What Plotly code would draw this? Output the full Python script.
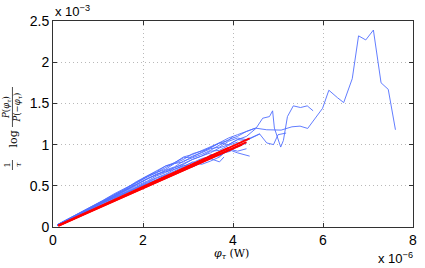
import plotly.graph_objects as go

# x in units of 1e-6 W, y in units of 1e-3
X = [0.1, 0.35, 0.6, 0.85, 1.1, 1.35, 1.6, 1.85, 2.1, 2.3, 2.5, 2.7, 2.9,
     3.1, 3.3, 3.5, 3.7, 3.9, 4.1, 4.3, 4.5]

b1_x = X[:21] + [4.75, 5.07, 5.31, 5.49, 5.66, 5.99, 6.13, 6.32, 6.46, 6.65,
                 6.79, 6.95, 7.12, 7.29, 7.45, 7.61]
b1_y = [0.025, 0.092, 0.16, 0.23, 0.30, 0.37, 0.44, 0.51, 0.59, 0.63, 0.69,
        0.73, 0.80, 0.84, 0.88, 0.93, 0.99, 1.06, 1.10, 1.16, 1.20,
        1.18, 1.176, 1.216, 1.224, 1.196, 1.44, 1.66, 1.57, 1.51, 1.80, 2.32,
        2.27, 2.39, 1.75, 1.67, 1.18]

b2_x = X[:20] + [4.51, 4.66, 4.81, 4.88, 4.92, 5.06, 5.12, 5.21, 5.34, 5.5,
                 5.65, 5.78]
b2_y = [0.02, 0.09, 0.16, 0.23, 0.30, 0.36, 0.43, 0.50, 0.56, 0.62, 0.66,
        0.72, 0.76, 0.82, 0.86, 0.90, 0.96, 1.00, 1.06, 1.10,
        1.196, 1.32, 1.34, 1.41, 1.20, 0.97, 1.05, 1.34, 1.47, 1.45, 1.47, 1.41]

b3_x = X[:20] + [4.59, 4.75, 4.9, 5.0, 5.18]
b3_y = [0.025, 0.095, 0.165, 0.235, 0.31, 0.38, 0.45, 0.53, 0.61, 0.66, 0.70,
        0.77, 0.79, 0.86, 0.90, 0.95, 0.97, 1.04, 1.08, 1.06,
        1.13, 1.02, 1.0, 1.12, 1.14]

b4_x = X[:19] + [4.37]
b4_y = [0.02, 0.09, 0.155, 0.225, 0.29, 0.36, 0.42, 0.49, 0.55, 0.60, 0.64,
        0.70, 0.75, 0.73, 0.78, 0.84, 0.88, 0.94, 0.90, 0.86]

b5_x = X[:21] + [4.6]
b5_y = [0.03, 0.10, 0.17, 0.24, 0.31, 0.39, 0.46, 0.54, 0.62, 0.67, 0.74,
        0.78, 0.85, 0.88, 0.93, 0.97, 1.02, 1.00, 1.06, 1.05, 1.10, 1.13]

b6_x = X[:19] + [4.3]
b6_y = [0.02, 0.085, 0.155, 0.22, 0.29, 0.355, 0.42, 0.48, 0.54, 0.59, 0.63,
        0.68, 0.73, 0.79, 0.76, 0.80, 0.85, 0.95, 0.92, 0.95]

b7_x = X[:18] + [4.0]
b7_y = [0.025, 0.095, 0.17, 0.24, 0.315, 0.39, 0.46, 0.55, 0.62, 0.68, 0.74,
        0.77, 0.82, 0.89, 0.92, 0.96, 1.02, 1.05, 1.10]

b8_x = X[:17] + [3.8]
b8_y = [0.02, 0.09, 0.16, 0.22, 0.29, 0.35, 0.41, 0.47, 0.53, 0.58, 0.62,
        0.66, 0.71, 0.76, 0.79, 0.83, 0.79, 0.85]

b9_x = X[:21]
b9_y = [0.03, 0.10, 0.17, 0.25, 0.32, 0.40, 0.47, 0.55, 0.61, 0.66, 0.72,
        0.78, 0.84, 0.85, 0.91, 0.97, 1.03, 1.08, 1.12, 1.16, 1.20]

b10_x = X[:19] + [4.2]
b10_y = [0.02, 0.09, 0.16, 0.23, 0.30, 0.37, 0.44, 0.52, 0.58, 0.64, 0.68,
         0.72, 0.77, 0.82, 0.86, 0.92, 0.93, 0.99, 1.03, 0.99]

b11_x = X[:17] + [3.95]
b11_y = [0.025, 0.09, 0.16, 0.235, 0.305, 0.38, 0.45, 0.52, 0.59, 0.64, 0.67,
         0.70, 0.74, 0.78, 0.83, 0.86, 0.89, 0.92]

b12_x = X[:20]
b12_y = [0.02, 0.085, 0.15, 0.22, 0.28, 0.34, 0.41, 0.47, 0.53, 0.57, 0.62,
         0.66, 0.72, 0.75, 0.79, 0.88, 0.86, 0.93, 0.97, 1.02]

blue_lines = [(b1_x, b1_y), (b2_x, b2_y), (b3_x, b3_y), (b4_x, b4_y),
              (b5_x, b5_y), (b6_x, b6_y), (b7_x, b7_y), (b8_x, b8_y),
              (b9_x, b9_y), (b10_x, b10_y), (b11_x, b11_y), (b12_x, b12_y)]

# red fits
r1_x = [0.12, 4.37]; r1_y = [0.016, 1.075]
r2_x = [0.12, 4.2];  r2_y = [0.018, 1.00]
r3_x = [0.12, 4.3];  r3_y = [0.014, 1.03]
r4_x = [0.12, 3.9];  r4_y = [0.02, 0.96]
red_lines = [(r1_x, r1_y), (r2_x, r2_y), (r3_x, r3_y), (r4_x, r4_y)]

x_ticks = [0, 2, 4, 6, 8]
y_ticks = [0, 0.5, 1, 1.5, 2, 2.5]
y_tick_text = ["0", "0.5", "1", "1.5", "2", "2.5"]

fig = go.Figure()
for bx, by in blue_lines:
    fig.add_trace(go.Scatter(x=bx, y=by, mode="lines",
                             line=dict(color="rgb(80,110,255)", width=0.9),
                             showlegend=False, hoverinfo="skip"))
for rx, ry in red_lines:
    fig.add_trace(go.Scatter(x=rx, y=ry, mode="lines",
                             line=dict(color="rgb(255,0,0)", width=1.8),
                             showlegend=False, hoverinfo="skip"))

sans = "Liberation Sans, Arial, sans-serif"
serif = "DejaVu Serif, Liberation Serif, serif"
tick_font = dict(family=sans, size=14, color="black")
axis_common = dict(showline=True, linecolor="rgb(50,50,50)", linewidth=1,
                   mirror="ticks", ticks="inside", ticklen=4,
                   tickcolor="rgb(50,50,50)", showgrid=True,
                   gridcolor="rgb(185,185,185)", griddash="1px,3px", gridwidth=1,
                   zeroline=False, tickfont=tick_font)

# plot area: x 53..417, y 21..227 (window pixels)
def px(xp):
    return (xp - 53) / 364.0

def py(yp):
    return (227 - yp) / 206.0

fig.update_layout(
    width=425, height=268,
    margin=dict(l=53, r=8, t=21, b=41),
    paper_bgcolor="white", plot_bgcolor="white",
    xaxis=dict(range=[0, 8], tickvals=x_ticks,
               ticktext=[str(v) for v in x_ticks], **axis_common),
    yaxis=dict(range=[0, 2.5], tickvals=y_ticks, ticktext=y_tick_text,
               **axis_common),
    annotations=[
        dict(text="x 10<sup>−3</sup>", xref="paper", yref="paper", x=0.0,
             y=1.0, xanchor="left", yanchor="bottom", showarrow=False,
             font=dict(family=sans, size=13, color="black")),
        dict(text="x 10<sup>−6</sup>", xref="paper", yref="paper", x=px(419),
             y=py(268), xanchor="right", yanchor="bottom", showarrow=False,
             font=dict(family=sans, size=13, color="black")),
        dict(text="<i>φ<sub>τ</sub></i> (W)", xref="paper", yref="paper",
             x=px(233), y=py(254), xanchor="center", yanchor="middle",
             showarrow=False, font=dict(family=serif, size=11, color="black")),
        # y-axis label pieces: 1/τ log P(φτ)/P(−φτ), rotated
        dict(text="1<br><i>τ</i>", xref="paper", yref="paper", x=px(12),
             y=py(165), xanchor="center", yanchor="middle", textangle=-90,
             showarrow=False, font=dict(family=serif, size=8, color="black")),
        dict(text="log", xref="paper", yref="paper", x=px(13), y=py(139),
             xanchor="center", yanchor="middle", textangle=-90,
             showarrow=False, font=dict(family=serif, size=11, color="black")),
        dict(text="<i>P</i>(<i>φ<sub>τ</sub></i>)<br><i>P</i>(−<i>φ<sub>τ</sub></i>)",
             xref="paper", yref="paper", x=px(12), y=py(107),
             xanchor="center", yanchor="middle", textangle=-90,
             showarrow=False, font=dict(family=serif, size=8.5, color="black")),
    ],
    shapes=[
        dict(type="line", xref="paper", yref="paper", x0=px(12), x1=px(12),
             y0=py(160), y1=py(170), line=dict(color="black", width=0.7)),
        dict(type="line", xref="paper", yref="paper", x0=px(12), x1=px(12),
             y0=py(87), y1=py(127), line=dict(color="black", width=0.7)),
    ],
)

fig.write_html("out.html", config={"displayModeBar": False},
               post_script="document.body.style.margin='0';")
